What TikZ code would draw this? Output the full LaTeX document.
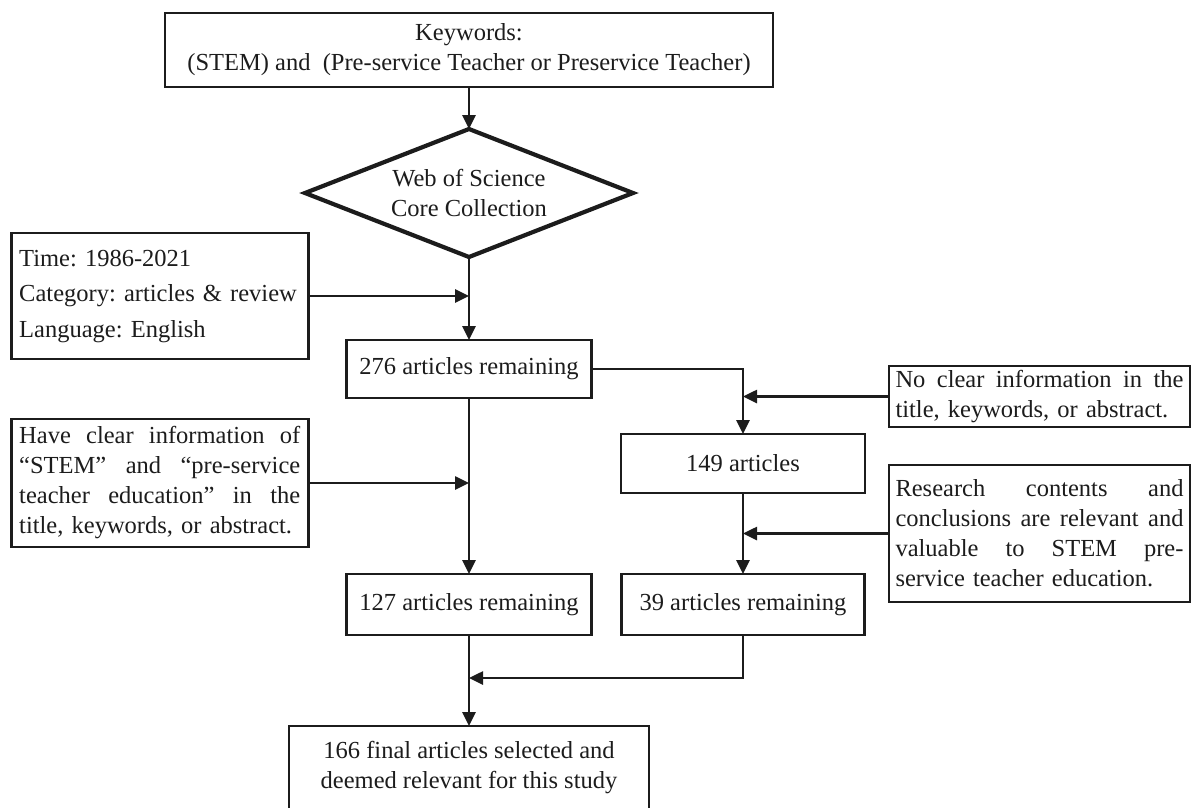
\documentclass[tikz,border=0pt]{standalone}
\usepackage{fontspec}
\setmainfont{Liberation Serif}
\usepackage{tikz}
\usetikzlibrary{arrows.meta,positioning,shapes.geometric}
\definecolor{Ink}{HTML}{1C1C1C}
% justified line of a given width, words split by \hfill
\newcommand{\spread}[2]{\leavevmode\hbox to #1{#2}}
\frenchspacing

\begin{document}
\begin{tikzpicture}[x=1pt, y=-1pt,
  every node/.style={font=\fontsize{24.5}{30}\selectfont, text=Ink},
  box/.style={draw=Ink, line width=2.6pt, rectangle, inner sep=0pt, outer sep=0pt, align=center},
  note/.style={box, inner xsep=8pt, align=left},
  flow/.style={draw=Ink, line width=2.6pt, -{Triangle[length=14pt,width=13pt]}}]
\useasboundingbox (0,0) rectangle (1192,807);
% main column
\node[box, minimum width=608pt, minimum height=74pt] (kw) at (469,50) {Keywords:\\(STEM) and\ \ (Pre-service Teacher or Preservice Teacher)};
\node[box, diamond, aspect=2.56, line width=4.2pt, minimum width=328pt, minimum height=128pt, below=42pt of kw] (wos) {Web of Science\\Core Collection};
\node[box, minimum width=245pt, minimum height=58pt, below=83pt of wos] (r276) {276 articles remaining};
\node[box, minimum width=245pt, minimum height=61pt, below=176pt of r276] (r127) {127 articles remaining};
\node[box, minimum width=243pt, minimum height=61pt, right=30pt of r127] (r39) {39 articles remaining};
\node[box, minimum width=360pt, minimum height=84pt, below=91pt of r127] (final) {166 final articles selected and\\deemed relevant for this study};
\node[box, minimum width=244pt, minimum height=59pt] (a149) at (743,463.5) {149 articles};
% criteria boxes
\node[note, text width=281pt, minimum height=126pt, font=\fontsize{24.5}{35.5}\selectfont] (time) at (159.75,296) {Time: 1986-2021\\Category: articles \& review\\Language: English};
\node[note, text width=281pt, minimum height=128pt] (clear) at (159.75,483) {\spread{281pt}{Have\hfill clear\hfill information\hfill of}\\\spread{281pt}{“STEM”\hfill and\hfill “pre-service}\\\spread{281pt}{teacher\hfill education”\hfill in\hfill the}\\title, keywords, or abstract.};
\node[note, inner xsep=6.5pt, text width=288pt, minimum height=61pt] (noinfo) at (1039.5,396.5) {\spread{288pt}{No\hfill clear\hfill information\hfill in\hfill the}\\title, keywords, or abstract.};
\node[note, inner xsep=6.5pt, text width=288pt, minimum height=137pt] (research) at (1039.5,533.5) {\spread{288pt}{Research\hfill contents\hfill and}\\\spread{288pt}{conclusions\hfill are\hfill relevant\hfill and}\\\spread{288pt}{valuable\hfill to\hfill STEM\hfill pre-}\\service teacher education.};
\coordinate (merge) at (469,678);
% connectors
\draw[flow] (kw) -- (wos);
\draw[flow] (wos) -- (r276);
\draw[flow] (time.east) -- (time.east -| wos);
\draw[flow] (r276.east) -| (a149.north);
\draw[flow] (noinfo.west) -- (noinfo.west -| a149);
\draw[flow] (r276) -- (r127);
\draw[flow] (clear.east) -- (clear.east -| r276);
\draw[flow] (a149) -- (r39);
\draw[flow] (research.west) -- (research.west -| a149);
\draw[flow] (r127) -- (final);
\draw[flow] (r39.south) |- (merge);
\end{tikzpicture}
\end{document}
